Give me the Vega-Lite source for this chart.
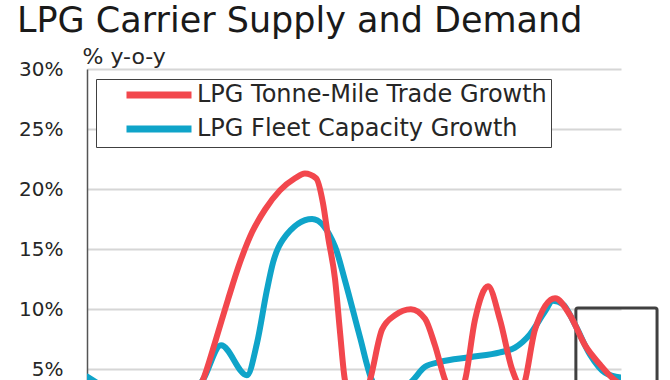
{
  "$schema": "https://vega.github.io/schema/vega-lite/v6.json",
  "autosize": {"type": "none"},
  "padding": {"left": 87, "top": 69, "right": 49, "bottom": 0},
  "width": 534,
  "height": 311,
  "background": "white",
  "title": {
    "text": "LPG Carrier Supply and Demand",
    "anchor": "start",
    "frame": "group",
    "font": "DejaVu Sans",
    "fontSize": 35,
    "fontWeight": "normal",
    "color": "#1a1a1a",
    "baseline": "alphabetic",
    "dx": -70,
    "dy": 22,
    "offset": 0
  },
  "config": {
    "view": {"stroke": null},
    "font": "DejaVu Sans"
  },
  "datasets": {
    "series": [
      {"year": 2000.00, "growth": 4.38, "series": "LPG Fleet Capacity Growth"},
      {"year": 2001.61, "growth": 2.5, "series": "LPG Fleet Capacity Growth"},
      {"year": 2003.11, "growth": 2.0, "series": "LPG Fleet Capacity Growth"},
      {"year": 2004.34, "growth": 4.1, "series": "LPG Fleet Capacity Growth"},
      {"year": 2005.02, "growth": 7.0, "series": "LPG Fleet Capacity Growth"},
      {"year": 2005.99, "growth": 4.5, "series": "LPG Fleet Capacity Growth"},
      {"year": 2006.37, "growth": 7.2, "series": "LPG Fleet Capacity Growth"},
      {"year": 2006.74, "growth": 11.6, "series": "LPG Fleet Capacity Growth"},
      {"year": 2006.97, "growth": 13.9, "series": "LPG Fleet Capacity Growth"},
      {"year": 2007.34, "growth": 15.8, "series": "LPG Fleet Capacity Growth"},
      {"year": 2008.43, "growth": 17.5, "series": "LPG Fleet Capacity Growth"},
      {"year": 2009.29, "growth": 15.2, "series": "LPG Fleet Capacity Growth"},
      {"year": 2009.66, "growth": 12.4, "series": "LPG Fleet Capacity Growth"},
      {"year": 2010.22, "growth": 7.7, "series": "LPG Fleet Capacity Growth"},
      {"year": 2010.67, "growth": 4.1, "series": "LPG Fleet Capacity Growth"},
      {"year": 2011.35, "growth": 2.5, "series": "LPG Fleet Capacity Growth"},
      {"year": 2012.21, "growth": 4.1, "series": "LPG Fleet Capacity Growth"},
      {"year": 2012.66, "growth": 5.2, "series": "LPG Fleet Capacity Growth"},
      {"year": 2013.22, "growth": 5.6, "series": "LPG Fleet Capacity Growth"},
      {"year": 2014.34, "growth": 6.0, "series": "LPG Fleet Capacity Growth"},
      {"year": 2015.47, "growth": 6.4, "series": "LPG Fleet Capacity Growth"},
      {"year": 2016.03, "growth": 6.8, "series": "LPG Fleet Capacity Growth"},
      {"year": 2016.59, "growth": 7.9, "series": "LPG Fleet Capacity Growth"},
      {"year": 2017.15, "growth": 9.8, "series": "LPG Fleet Capacity Growth"},
      {"year": 2017.45, "growth": 10.7, "series": "LPG Fleet Capacity Growth"},
      {"year": 2017.83, "growth": 10.4, "series": "LPG Fleet Capacity Growth"},
      {"year": 2018.28, "growth": 8.7, "series": "LPG Fleet Capacity Growth"},
      {"year": 2018.84, "growth": 6.2, "series": "LPG Fleet Capacity Growth"},
      {"year": 2019.40, "growth": 4.7, "series": "LPG Fleet Capacity Growth"},
      {"year": 2020.00, "growth": 4.3, "series": "LPG Fleet Capacity Growth"},
      {"year": 2000.00, "growth": 1.0, "series": "LPG Tonne-Mile Trade Growth"},
      {"year": 2002.36, "growth": 1.5, "series": "LPG Tonne-Mile Trade Growth"},
      {"year": 2003.86, "growth": 2.5, "series": "LPG Tonne-Mile Trade Growth"},
      {"year": 2004.34, "growth": 4.1, "series": "LPG Tonne-Mile Trade Growth"},
      {"year": 2004.79, "growth": 7.2, "series": "LPG Tonne-Mile Trade Growth"},
      {"year": 2005.28, "growth": 10.8, "series": "LPG Tonne-Mile Trade Growth"},
      {"year": 2005.73, "growth": 13.9, "series": "LPG Tonne-Mile Trade Growth"},
      {"year": 2006.18, "growth": 16.4, "series": "LPG Tonne-Mile Trade Growth"},
      {"year": 2006.67, "growth": 18.3, "series": "LPG Tonne-Mile Trade Growth"},
      {"year": 2007.23, "growth": 19.9, "series": "LPG Tonne-Mile Trade Growth"},
      {"year": 2007.79, "growth": 20.9, "series": "LPG Tonne-Mile Trade Growth"},
      {"year": 2008.16, "growth": 21.3, "series": "LPG Tonne-Mile Trade Growth"},
      {"year": 2008.58, "growth": 20.9, "series": "LPG Tonne-Mile Trade Growth"},
      {"year": 2008.84, "growth": 18.8, "series": "LPG Tonne-Mile Trade Growth"},
      {"year": 2009.03, "growth": 16.0, "series": "LPG Tonne-Mile Trade Growth"},
      {"year": 2009.29, "growth": 12.5, "series": "LPG Tonne-Mile Trade Growth"},
      {"year": 2009.48, "growth": 8.0, "series": "LPG Tonne-Mile Trade Growth"},
      {"year": 2009.66, "growth": 4.1, "series": "LPG Tonne-Mile Trade Growth"},
      {"year": 2010.11, "growth": 1.5, "series": "LPG Tonne-Mile Trade Growth"},
      {"year": 2010.60, "growth": 4.1, "series": "LPG Tonne-Mile Trade Growth"},
      {"year": 2011.05, "growth": 8.3, "series": "LPG Tonne-Mile Trade Growth"},
      {"year": 2011.54, "growth": 9.5, "series": "LPG Tonne-Mile Trade Growth"},
      {"year": 2012.13, "growth": 10.0, "series": "LPG Tonne-Mile Trade Growth"},
      {"year": 2012.66, "growth": 9.2, "series": "LPG Tonne-Mile Trade Growth"},
      {"year": 2013.03, "growth": 7.0, "series": "LPG Tonne-Mile Trade Growth"},
      {"year": 2013.41, "growth": 4.1, "series": "LPG Tonne-Mile Trade Growth"},
      {"year": 2013.78, "growth": 2.5, "series": "LPG Tonne-Mile Trade Growth"},
      {"year": 2014.16, "growth": 4.1, "series": "LPG Tonne-Mile Trade Growth"},
      {"year": 2014.53, "growth": 9.1, "series": "LPG Tonne-Mile Trade Growth"},
      {"year": 2015.02, "growth": 11.9, "series": "LPG Tonne-Mile Trade Growth"},
      {"year": 2015.47, "growth": 9.1, "series": "LPG Tonne-Mile Trade Growth"},
      {"year": 2015.92, "growth": 5.0, "series": "LPG Tonne-Mile Trade Growth"},
      {"year": 2016.29, "growth": 3.5, "series": "LPG Tonne-Mile Trade Growth"},
      {"year": 2016.78, "growth": 8.3, "series": "LPG Tonne-Mile Trade Growth"},
      {"year": 2017.53, "growth": 10.9, "series": "LPG Tonne-Mile Trade Growth"},
      {"year": 2018.09, "growth": 9.5, "series": "LPG Tonne-Mile Trade Growth"},
      {"year": 2018.65, "growth": 7.0, "series": "LPG Tonne-Mile Trade Growth"},
      {"year": 2019.21, "growth": 5.4, "series": "LPG Tonne-Mile Trade Growth"},
      {"year": 2019.66, "growth": 4.3, "series": "LPG Tonne-Mile Trade Growth"},
      {"year": 2020.00, "growth": 3.7, "series": "LPG Tonne-Mile Trade Growth"}
    ],
    "box": [
      {"start": 2018.31, "end": 2021.35, "top": 10.1, "bottom": 3.0}
    ]
  },
  "layer": [
    {
      "data": {"name": "box"},
      "mark": {"type": "rect", "fill": null, "stroke": "#404040", "strokeWidth": 3, "cornerRadius": 2},
      "encoding": {
        "x": {"field": "start", "type": "quantitative", "scale": {"domain": [2000, 2020], "nice": false, "zero": false}, "axis": null},
        "x2": {"field": "end"},
        "y": {"field": "top", "type": "quantitative"},
        "y2": {"field": "bottom"}
      }
    },
    {
      "data": {"name": "series"},
      "mark": {"type": "line", "interpolate": "monotone", "strokeWidth": 6, "clip": true, "strokeCap": "round"},
      "encoding": {
        "x": {"field": "year", "type": "quantitative", "scale": {"domain": [2000, 2020], "nice": false, "zero": false}, "axis": null},
        "y": {
          "field": "growth",
          "type": "quantitative",
          "scale": {"domain": [4.1, 30], "nice": false, "zero": false},
          "axis": {
            "title": "% y-o-y",
            "titleAngle": 0,
            "titleAlign": "left",
            "titleBaseline": "alphabetic",
            "titleX": -5,
            "titleY": -6,
            "titleFont": "DejaVu Sans",
            "titleFontSize": 22,
            "titleFontWeight": "normal",
            "titleColor": "#262626",
            "values": [5, 10, 15, 20, 25, 30],
            "labelExpr": "datum.value + '%'",
            "labelFont": "DejaVu Sans",
            "labelFontSize": 20,
            "labelColor": "#262626",
            "labelPadding": 24,
            "ticks": false,
            "domainColor": "#555555",
            "domainWidth": 1.5,
            "gridColor": "#d6d6d6",
            "gridWidth": 2
          }
        },
        "color": {
          "field": "series",
          "type": "nominal",
          "scale": {
            "domain": ["LPG Tonne-Mile Trade Growth", "LPG Fleet Capacity Growth"],
            "range": ["#F2474D", "#0FA4C9"]
          },
          "legend": {
            "title": null,
            "orient": "none",
            "legendX": 9,
            "legendY": 10,
            "padding": 4,
            "symbolOffset": 47,
            "symbolType": "M-5,0H5",
            "symbolSize": 169,
            "symbolStrokeWidth": 7,
            "symbolStrokeCap": "round",
            "labelOffset": 26,
            "labelFont": "DejaVu Sans",
            "labelFontSize": 24,
            "labelColor": "#262626",
            "labelLimit": 500,
            "labelExpr": "datum.label + '   '",
            "rowPadding": 6,
            "strokeColor": "#404040",
            "fillColor": "white"
          }
        }
      }
    }
  ]
}
